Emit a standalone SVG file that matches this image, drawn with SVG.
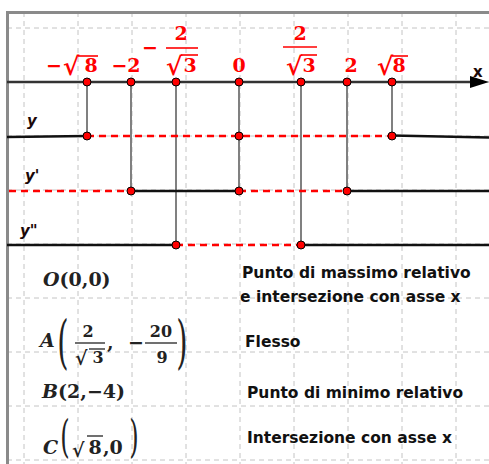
<svg xmlns="http://www.w3.org/2000/svg" width="489" height="464" viewBox="0 0 489 464">
<style>
.grid{stroke:#c4c4c4;stroke-width:1;stroke-dasharray:5,4;fill:none}
.frame{stroke:#8a8a8a;stroke-width:3;fill:none}
.conn{stroke:#808080;stroke-width:2;fill:none}
.solid{stroke:#111;stroke-width:2.5;fill:none}
.dash{stroke:#ff0000;stroke-width:2.5;stroke-dasharray:7,5;fill:none}
.dot{fill:#ff0000;stroke:#000;stroke-width:1}
.rl{font-family:"DejaVu Serif",serif;font-weight:bold;font-size:19px;fill:#ff0000}
.rs{font-family:"DejaVu Serif",serif;font-weight:bold;font-size:25px;fill:#ff0000}
.rbar{stroke:#ff0000;stroke-width:1.6}
.lab{font-family:"DejaVu Sans",sans-serif;font-weight:bold;font-style:italic;font-size:15px;fill:#1a0808}
.m{font-family:"DejaVu Serif",serif;font-weight:bold;font-size:19px;fill:#222}
.ms{font-family:"DejaVu Serif",serif;font-weight:bold;font-size:16px;fill:#222}
.par{font-family:"DejaVu Serif",serif;font-weight:normal;fill:#222}
.it{font-style:italic}
.mbar{stroke:#222;stroke-width:1.3}
.desc{font-family:"DejaVu Sans",sans-serif;font-weight:bold;font-size:15.5px;fill:#111}
</style>
<rect x="0" y="0" width="489" height="464" fill="#fff"/>
<g id="grid">
<path class="grid" d="M24 12V464M78 12V464M132 12V464M186 12V464M240 12V464M294 12V464M348 12V464M402 12V464M456 12V464"/>
<path class="grid" d="M7 28H489M7 82H489M7 136H489M7 190H489M7 244H489M7 298H489M7 352H489M7 406H489M7 460H489"/>
</g>
<g id="frame">
<path class="frame" d="M7.5 464V12.5H489"/>
</g>
<g id="connectors">
<line class="conn" x1="87" y1="82" x2="87" y2="136"/>
<line class="conn" x1="131" y1="82" x2="131" y2="191"/>
<line class="conn" x1="176" y1="82" x2="176" y2="245"/>
<line class="conn" x1="239" y1="82" x2="239" y2="191"/>
<line class="conn" x1="301" y1="82" x2="301" y2="245"/>
<line class="conn" x1="347" y1="82" x2="347" y2="191"/>
<line class="conn" x1="392" y1="82" x2="392" y2="136"/>
</g>
<g id="x-axis">
<line x1="7" y1="82" x2="475" y2="82" stroke="#333" stroke-width="2.5"/>
<polygon points="489,82 470,76 470,88" fill="#000"/>
<text class="lab" x="473" y="77" style="font-style:normal">x</text>
</g>
<g id="y-line">
<line class="solid" x1="7" y1="137" x2="87" y2="136"/>
<line class="dash" x1="87" y1="136" x2="392" y2="136"/>
<line class="solid" x1="392" y1="135.5" x2="489" y2="137.5"/>
<text class="lab" x="27" y="126">y</text>
</g>
<g id="y1-line">
<line class="dash" x1="9" y1="191" x2="131" y2="191"/>
<line class="solid" x1="131" y1="191" x2="239" y2="191"/>
<line class="dash" x1="239" y1="191" x2="347" y2="191"/>
<line class="solid" x1="347" y1="191" x2="489" y2="191"/>
<text class="lab" x="25" y="181">y'</text>
</g>
<g id="y2-line">
<line class="solid" x1="7" y1="245" x2="176" y2="245"/>
<line class="dash" x1="176" y1="245" x2="301" y2="245"/>
<line class="solid" x1="301" y1="245" x2="489" y2="245"/>
<text class="lab" x="20" y="236">y"</text>
</g>
<g id="points">
<circle class="dot" cx="87" cy="82" r="4"/>
<circle class="dot" cx="131" cy="82" r="4"/>
<circle class="dot" cx="176" cy="82" r="4"/>
<circle class="dot" cx="239" cy="82" r="4"/>
<circle class="dot" cx="301" cy="82" r="4"/>
<circle class="dot" cx="347" cy="82" r="4"/>
<circle class="dot" cx="392" cy="82" r="4"/>
<circle class="dot" cx="87" cy="136" r="4"/>
<circle class="dot" cx="239" cy="136" r="4"/>
<circle class="dot" cx="392" cy="136" r="4"/>
<circle class="dot" cx="131" cy="191" r="4"/>
<circle class="dot" cx="239" cy="191" r="4"/>
<circle class="dot" cx="347" cy="191" r="4"/>
<circle class="dot" cx="176" cy="245" r="4"/>
<circle class="dot" cx="301" cy="245" r="4"/>
</g>
<g id="x-labels">
<text class="rl" x="46" y="72">−</text><text class="rs" x="63" y="75">√</text><text class="rl" x="91" y="72" text-anchor="middle">8</text>
<line class="rbar" x1="78" y1="56" x2="98" y2="56"/>
<text class="rl" x="126" y="72" text-anchor="middle">−2</text>
<text class="rl" x="150" y="54" text-anchor="middle">−</text>
<text class="rl" x="181" y="40" text-anchor="middle">2</text>
<line class="rbar" x1="166" y1="48" x2="198" y2="48"/>
<text class="rs" x="166" y="75">√</text><text class="rl" x="190" y="72" text-anchor="middle">3</text>
<line class="rbar" x1="181" y1="55" x2="198" y2="55"/>
<text class="rl" x="239" y="72" text-anchor="middle">0</text>
<text class="rl" x="300" y="40" text-anchor="middle">2</text>
<line class="rbar" x1="283" y1="47" x2="317" y2="47"/>
<text class="rs" x="286" y="75">√</text><text class="rl" x="309" y="72" text-anchor="middle">3</text>
<line class="rbar" x1="301" y1="55" x2="317" y2="55"/>
<text class="rl" x="351" y="72" text-anchor="middle">2</text>
<text class="rs" x="377" y="75">√</text><text class="rl" x="399" y="72" text-anchor="middle">8</text>
<line class="rbar" x1="392" y1="56" x2="408" y2="56"/>
</g>
<g id="point-O">
<text class="m" x="43" y="286"><tspan class="it">O</tspan>(0,0)</text>
<text class="desc" x="242" y="278">Punto di massimo relativo</text>
<text class="desc" x="240" y="302">e intersezione con asse x</text>
</g>
<g id="point-A">
<text class="m it" x="40" y="347">A</text>
<text class="par" font-size="58" text-anchor="middle" transform="translate(63 362) scale(0.5 1)">(</text>
<text class="ms" x="88" y="337" text-anchor="middle">2</text>
<line class="mbar" x1="75" y1="343" x2="105" y2="343"/>
<text class="m" x="75" y="365" font-size="21">√</text><text class="ms" x="98" y="363" text-anchor="middle">3</text>
<line class="mbar" x1="89" y1="349" x2="105" y2="349"/>
<text class="m" x="107" y="349">,</text>
<text class="m" x="136" y="349" text-anchor="middle">−</text>
<text class="ms" x="161" y="337" text-anchor="middle">20</text>
<line class="mbar" x1="145" y1="343" x2="177" y2="343"/>
<text class="ms" x="162" y="363" text-anchor="middle">9</text>
<text class="par" font-size="58" text-anchor="middle" transform="translate(182 362) scale(0.5 1)">)</text>
<text class="desc" x="245" y="347">Flesso</text>
</g>
<g id="point-B">
<text class="m" x="42" y="398"><tspan class="it">B</tspan>(2,−4)</text>
<text class="desc" x="247" y="398">Punto di minimo relativo</text>
</g>
<g id="point-C">
<text class="m it" x="43" y="454">C</text>
<text class="par" font-size="44" text-anchor="middle" transform="translate(65 452) scale(0.55 1)">(</text>
<text class="m" x="72" y="457" font-size="24">√</text><text class="m" x="95" y="454" text-anchor="middle">8</text>
<line class="mbar" x1="87" y1="436" x2="103" y2="436"/>
<text class="m" x="103" y="454">,0</text>
<text class="par" font-size="44" text-anchor="middle" transform="translate(134 452) scale(0.55 1)">)</text>
<text class="desc" x="247" y="443">Intersezione con asse x</text>
</g>
</svg>
